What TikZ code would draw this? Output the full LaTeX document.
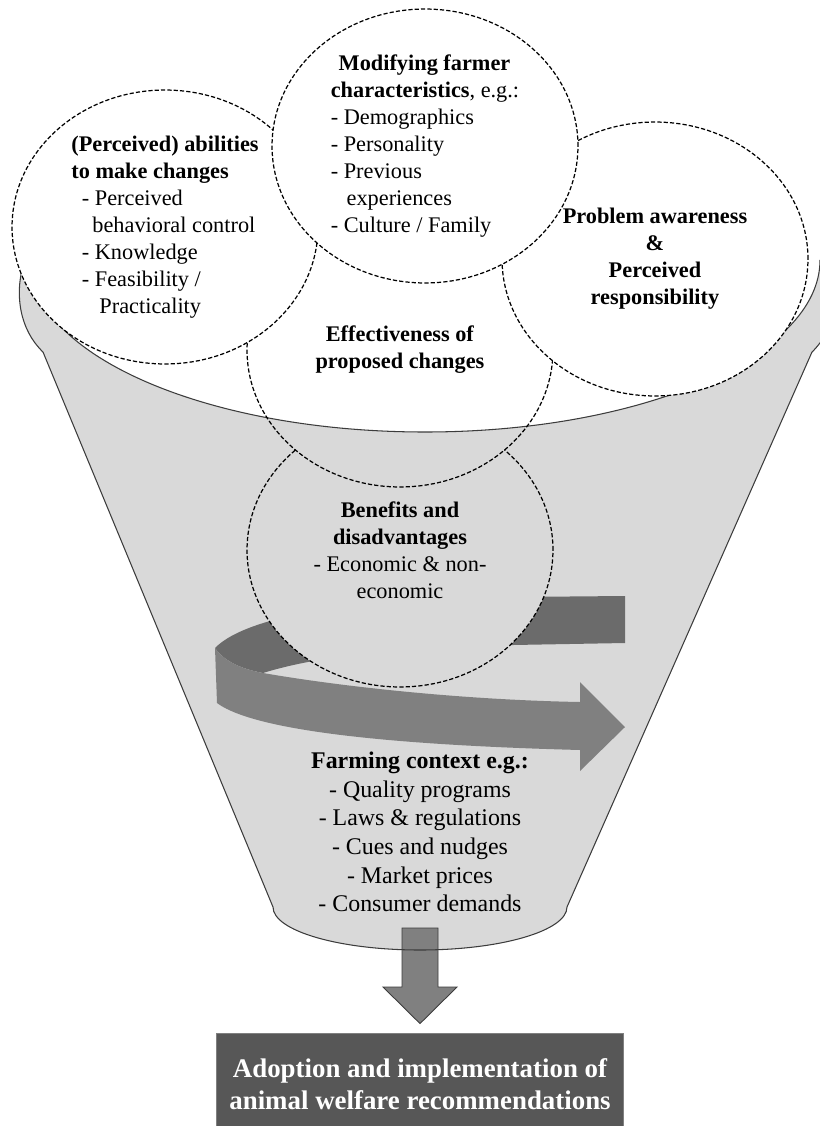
\documentclass[tikz,border=0pt]{standalone}
\usepackage{fontspec}
\setmainfont{Liberation Serif}
\usetikzlibrary{shapes.geometric,calc}
\definecolor{funnelgray}{HTML}{D9D9D9}
\definecolor{backband}{HTML}{6B6B6B}
\definecolor{frontband}{HTML}{808080}
\definecolor{boxgray}{HTML}{575757}
\definecolor{edgegray}{HTML}{3C3C3C}

\begin{document}
\begin{tikzpicture}[x=0.02cm, y=-0.02cm,
    bubble/.style={ellipse, draw=black, line width=0.7pt, dash pattern=on 2.4pt off 1.2pt,
      minimum width=6.12cm, minimum height=5.48cm, inner sep=0pt,
      font=\fontsize{12.7}{15.4}\selectfont},
    funneledge/.style={draw=edgegray, line width=0.6pt}]
  \clip (0,0) rectangle (820,1126);

  % funnel body
  \fill[funnelgray] (24,262) .. controls (14,295) and (20,330) .. (43,352) -- (273,907)
    arc[start angle=180, end angle=0, x radius=147, y radius=43] -- (812,352)
    .. controls (835,330) and (841,295) .. (831,262) -- (820,260)
    arc[start angle=0, end angle=180, x radius=395, y radius=172] -- cycle;

  % outcome and arrow into it
  \node[fill=boxgray, draw=gray, line width=0.5pt, minimum width=8.14cm, minimum height=2.06cm,
    text=white, align=center, font=\bfseries\fontsize{15.3}{18.3}\selectfont]
    (adopt) at (420,1084.5) {Adoption and implementation of\\ animal welfare recommendations};
  \coordinate (spout) at (420,928);
  \draw[fill=frontband, draw=edgegray, line width=0.5pt] ($(spout)+(-18,0)$) -- ($(spout)+(18,0)$)
    -- ($(spout)+(18,59)$) -- ($(spout)+(37,59)$) -- ($(adopt.north)+(0,-9)$)
    -- ($(spout)+(-37,59)$) -- ($(spout)+(-18,59)$) -- cycle;

  \draw[funneledge] (24,262) .. controls (14,295) and (20,330) .. (43,352) -- (273,907)
    arc[start angle=180, end angle=0, x radius=147, y radius=43] -- (812,352)
    .. controls (835,330) and (841,295) .. (831,262);

  % back part of the swirl
  \fill[backband] (625,596) -- (513,597) .. controls (380,597) and (250,612) .. (215,648)
    .. controls (225,662) and (242,669) .. (263,673)
    .. controls (320,655) and (420,645) .. (513,645) -- (625,643) -- cycle;

  \node[bubble, fill=funnelgray, align=center] (benefit) at (400,550)
    {\textbf{Benefits and}\\ \textbf{disadvantages}\\ - Economic \& non-\\ economic};

  % effectiveness: white above the rim, gray below
  \fill[funnelgray] (400,350) ellipse[x radius=153, y radius=137];
  \begin{scope}
    \clip (400,350) ellipse[x radius=153, y radius=137];
    \fill[white] (425,260) ellipse[x radius=395, y radius=172];
  \end{scope}
  \draw[funneledge] (820,260) arc[start angle=0, end angle=180, x radius=395, y radius=172];
  \node[bubble, align=center] (effect) at (400,350) {\textbf{Effectiveness of}\\ \textbf{proposed changes}};

  % front part of the swirl
  \fill[frontband] (215,648) .. controls (225,662) and (242,669) .. (263,673)
    .. controls (350,688) and (470,700) .. (580,702) -- (580,682) -- (625,727) -- (580,771)
    -- (580,750) .. controls (430,746) and (260,735) .. (217,703) -- cycle;

  \node[bubble, fill=white, align=left] (ability) at (165,227)
    {\textbf{(Perceived) abilities}\\ \textbf{to make changes}\\
     \hspace*{6pt}- Perceived\\ \hspace*{12pt}behavioral control\\
     \hspace*{6pt}- Knowledge\\ \hspace*{6pt}- Feasibility /\\ \hspace*{16pt}Practicality};
  \node[bubble, fill=white, align=center] (aware) at (655,259)
    {\textbf{Problem awareness}\\ \textbf{\&}\\ \textbf{Perceived}\\ \textbf{responsibility}};
  \node[bubble, fill=white, align=left] (farmer) at (425,146)
    {\hspace*{4.5pt}\textbf{Modifying farmer}\\ \textbf{characteristics}, e.g.:\\
     - Demographics\\ - Personality\\ - Previous\\ \hspace*{9pt}experiences\\ - Culture / Family};

  \node[align=center, font=\fontsize{13.6}{16.3}\selectfont] (context) at (420,832)
    {\textbf{Farming context e.g.:}\\ - Quality programs\\ - Laws \& regulations\\
     - Cues and nudges\\ - Market prices\\ - Consumer demands};
\end{tikzpicture}
\end{document}
